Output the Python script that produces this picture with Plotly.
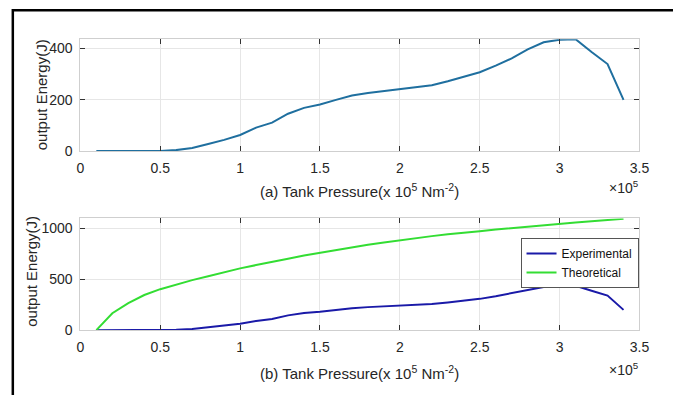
import plotly.graph_objects as go

# Tank pressure (x 10^5 N m^-2)
pressure = [0.1, 0.2, 0.3, 0.4, 0.5, 0.6, 0.7, 0.8, 0.9, 1.0,
            1.1, 1.2, 1.3, 1.4, 1.5, 1.6, 1.7, 1.8, 1.9, 2.0,
            2.1, 2.2, 2.3, 2.4, 2.5, 2.6, 2.7, 2.8, 2.9, 3.0,
            3.1, 3.2, 3.3, 3.4]
experimental = [0, 0, 0, 0, 0, 3, 11, 27, 43, 62,
                91, 110, 145, 168, 181, 199, 216, 226, 234, 241,
                250, 256, 272, 288, 307, 333, 361, 396, 424, 434,
                436, 386, 339, 199]
theoretical = [0, 166, 266, 345, 402, 450, 491, 529, 568, 606,
               638, 672, 701, 732, 759, 787, 812, 837, 860, 882,
               903, 922, 940, 958, 970, 986, 1001, 1015, 1029, 1043,
               1056, 1068, 1080, 1092]
x_ticks = [0, 0.5, 1, 1.5, 2, 2.5, 3, 3.5]
x_ticktext = ["0", "0.5", "1", "1.5", "2", "2.5", "3", "3.5"]
ya_ticks = [0, 200, 400]
yb_ticks = [0, 500, 1000]

W, H = 673, 395
FONT = "Liberation Sans, Arial, Helvetica, sans-serif"
TXT = "#262626"

fig = go.Figure()
fig.add_trace(go.Scatter(x=pressure, y=experimental, mode="lines",
                         line=dict(color="#1f6f9f", width=2),
                         showlegend=False, xaxis="x", yaxis="y"))
fig.add_trace(go.Scatter(x=pressure, y=experimental, mode="lines",
                         name="Experimental",
                         line=dict(color="#1a1aa8", width=2),
                         xaxis="x2", yaxis="y2"))
fig.add_trace(go.Scatter(x=pressure, y=theoretical, mode="lines",
                         name="Theoretical",
                         line=dict(color="#33dd33", width=2),
                         xaxis="x2", yaxis="y2"))

def px_x(p):
    return p / W

def px_y(p):
    return 1 - p / H

axis_common = dict(
    showline=True, linecolor="#cfcfcf", linewidth=1, mirror="ticks",
    ticks="inside", ticklen=5, tickcolor="#333333", tickwidth=1,
    showgrid=True, gridcolor="#e6e6e6", gridwidth=1, zeroline=False,
    tickfont=dict(family=FONT, size=14, color=TXT),
)

xdom = [px_x(78), px_x(649)]
fig.update_layout(
    width=W, height=H,
    margin=dict(l=0, r=0, t=0, b=0),
    paper_bgcolor="white", plot_bgcolor="white",
    font=dict(family=FONT, color=TXT),
    xaxis=dict(domain=xdom, range=[0, 3.5], tickvals=x_ticks, ticktext=x_ticktext,
               anchor="y", ticklabelstandoff=4, **axis_common),
    yaxis=dict(domain=[px_y(154), px_y(40)], range=[0, 436], tickvals=ya_ticks,
               anchor="x", ticklabelstandoff=4, **axis_common),
    xaxis2=dict(domain=xdom, range=[0, 3.5], tickvals=x_ticks, ticktext=x_ticktext,
                anchor="y2", ticklabelstandoff=4, **axis_common),
    yaxis2=dict(domain=[px_y(337), px_y(223)], range=[0, 1095], tickvals=yb_ticks,
                anchor="x2", ticklabelstandoff=4, **axis_common),
    legend=dict(x=px_x(648), y=px_y(243), xanchor="right", yanchor="top",
                bgcolor="white", bordercolor="#555555", borderwidth=1,
                font=dict(family=FONT, size=12, color="#111111"),
                itemwidth=30, tracegroupgap=0),
    showlegend=True,
)

annotations = [
    dict(text="output Energy(J)", x=px_x(38), y=px_y(97), textangle=-90,
         font=dict(size=15)),
    dict(text="output Energy(J)", x=px_x(28), y=px_y(277), textangle=-90,
         font=dict(size=15)),
    dict(text="(a) Tank Pressure(x 10<sup>5</sup> Nm<sup>-2</sup>)", x=px_x(363.5),
         y=px_y(194), font=dict(size=15)),
    dict(text="(b) Tank Pressure(x 10<sup>5</sup> Nm<sup>-2</sup>)", x=px_x(363.5),
         y=px_y(380), font=dict(size=15)),
    dict(text="\u00d710<sup>5</sup>", x=px_x(651), y=px_y(191), xanchor="right",
         font=dict(size=14)),
    dict(text="\u00d710<sup>5</sup>", x=px_x(651), y=px_y(377), xanchor="right",
         font=dict(size=14)),
]
for a in annotations:
    a.update(xref="paper", yref="paper", showarrow=False, yanchor="middle")
    a.setdefault("xanchor", "center")
    a["font"].update(family=FONT, color=TXT)
fig.update_layout(annotations=annotations)

# outer black frame
fig.add_shape(type="rect", xref="paper", yref="paper",
              x0=px_x(9), x1=1.05, y0=-0.05, y1=px_y(10.5),
              line=dict(color="black", width=2.5), fillcolor="rgba(0,0,0,0)")

fig.write_html(
    "out.html",
    config={"displayModeBar": False},
    post_script="document.body.style.margin='0';document.body.style.overflow='hidden';",
)
